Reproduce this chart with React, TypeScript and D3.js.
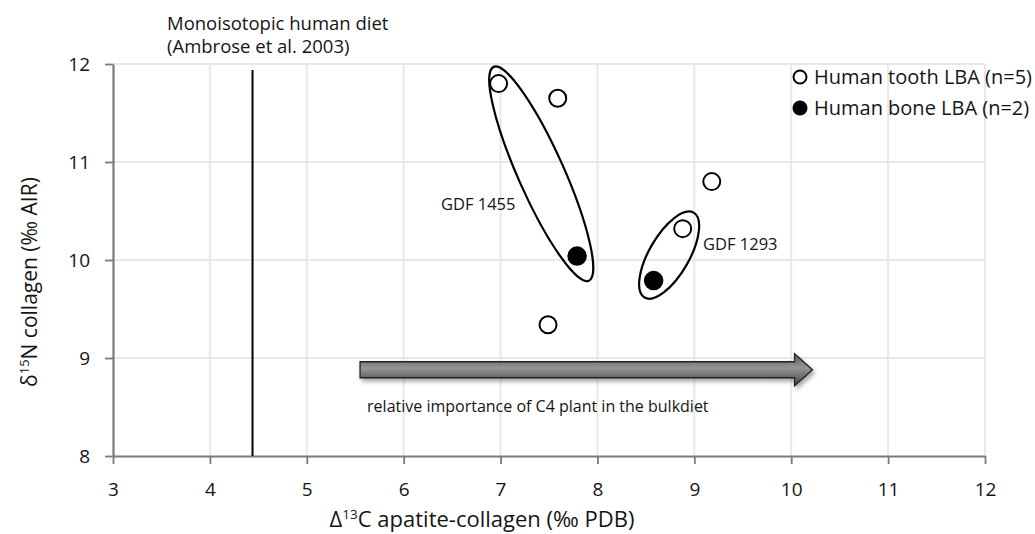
import React, { useRef, useEffect } from "react";
import * as d3 from "d3";

// measured values (‰)
const toothPoints = [
  { x: 6.98, y: 11.8 },
  { x: 7.59, y: 11.65 },
  { x: 9.18, y: 10.8 },
  { x: 8.88, y: 10.32 },
  { x: 7.49, y: 9.34 },
];
const bonePoints = [
  { x: 7.79, y: 10.04 },
  { x: 8.58, y: 9.79 },
];
const xTicks = [3, 4, 5, 6, 7, 8, 9, 10, 11, 12];
const yTicks = [8, 9, 10, 11, 12];
const monoisotopicX = 4.44;

// individual groupings (center in data units)
const groups = [
  { label: "GDF 1455", cx: 7.42, cy: 10.88, labelX: 6.385, labelY: 10.51 },
  { label: "GDF 1293", cx: 8.74, cy: 10.05, labelX: 9.09, labelY: 10.1 },
];
const arrowFrom = 5.55;
const arrowTo = 10.22;
const arrowY = 8.88;

const width = 1035,
  height = 534,
  marginLeft = 113,
  marginRight = 50,
  marginTop = 64,
  marginBottom = 78;

const font = "'Open Sans', sans-serif";
const ink = "#151515";

const App = () => {
  const axisRef = useRef<SVGGElement>(null);

  const x = d3
    .scaleLinear()
    .domain([3, 12])
    .range([marginLeft, width - marginRight]);
  const y = d3
    .scaleLinear()
    .domain([8, 12])
    .range([height - marginBottom, marginTop]);

  useEffect(() => {
    document.body.style.margin = "0";
    if (!axisRef.current) return;
    const g = d3.select(axisRef.current);
    g.selectAll("*").remove();

    g.append("g")
      .attr("transform", `translate(0,${y(8)})`)
      .call(
        d3
          .axisBottom(x)
          .tickValues(xTicks)
          .tickFormat(d3.format("d"))
          .tickSize(8)
          .tickSizeOuter(0)
      )
      .call((a) => a.select(".domain").attr("stroke", "#7a7a7a").attr("stroke-width", 2.2))
      .call((a) => a.selectAll(".tick line").attr("stroke", "#7a7a7a").attr("stroke-width", 1.8))
      .call((a) =>
        a
          .selectAll(".tick text")
          .attr("fill", ink)
          .attr("y", 0)
          .attr("dy", 0)
          .attr("transform", "translate(0,40)")
          .style("font-size", "19px")
          .style("font-family", font)
      );

    g.append("g")
      .attr("transform", `translate(${x(3)},0)`)
      .call(
        d3
          .axisLeft(y)
          .tickValues(yTicks)
          .tickFormat(d3.format("d"))
          .tickSize(8)
          .tickSizeOuter(0)
      )
      .call((a) => a.select(".domain").attr("stroke", "#7a7a7a").attr("stroke-width", 2.2))
      .call((a) => a.selectAll(".tick line").attr("stroke", "#7a7a7a").attr("stroke-width", 1.8))
      .call((a) =>
        a
          .selectAll(".tick text")
          .attr("fill", ink)
          .attr("x", -23)
          .style("font-size", "19px")
          .style("font-family", font)
      );
  }, []);

  const headLen = 18,
    bodyHalf = 8,
    headHalf = 16;
  const ax0 = x(arrowFrom),
    ax1 = x(arrowTo),
    ay = y(arrowY);
  const arrowPath = [
    [ax0, ay - bodyHalf],
    [ax1 - headLen, ay - bodyHalf],
    [ax1 - headLen, ay - headHalf],
    [ax1, ay],
    [ax1 - headLen, ay + headHalf],
    [ax1 - headLen, ay + bodyHalf],
    [ax0, ay + bodyHalf],
  ];

  return (
    <svg width={width} height={height} style={{ display: "block", background: "#fff" }}>
      <defs>
        <linearGradient id="arrowGrad" x1="0" y1="0" x2="0" y2="1">
          <stop offset="0%" stopColor="#595959" />
          <stop offset="45%" stopColor="#959595" />
          <stop offset="100%" stopColor="#424242" />
        </linearGradient>
        <filter id="shadow" x="-5%" y="-50%" width="110%" height="200%">
          <feDropShadow dx="2" dy="3" stdDeviation="2" floodColor="#000" floodOpacity="0.35" />
        </filter>
      </defs>

      {/* gridlines */}
      <g stroke="#e8e8e8" strokeWidth={2}>
        {xTicks.slice(1).map((t) => (
          <line key={"gx" + t} x1={x(t)} x2={x(t)} y1={y(12)} y2={y(8)} />
        ))}
        {yTicks.slice(1).map((t) => (
          <line key={"gy" + t} x1={x(3)} x2={x(12)} y1={y(t)} y2={y(t)} />
        ))}
      </g>

      <g ref={axisRef} />

      {/* monoisotopic line */}
      <line
        x1={x(monoisotopicX)}
        x2={x(monoisotopicX)}
        y1={y(11.94)}
        y2={y(8)}
        stroke="#000"
        strokeWidth={2}
      />
      <text x={167} y={30} fontFamily={font} fontSize={18.5} fill={ink}>
        Monoisotopic human diet
      </text>
      <text x={167} y={53} fontFamily={font} fontSize={18.5} fill={ink}>
        (Ambrose et al. 2003)
      </text>

      {/* ellipses */}
      <ellipse
        cx={x(groups[0].cx)}
        cy={y(groups[0].cy)}
        rx={117}
        ry={23}
        transform={`rotate(66,${x(groups[0].cx)},${y(groups[0].cy)})`}
        fill="none"
        stroke="#000"
        strokeWidth={2.2}
      />
      <ellipse
        cx={x(groups[1].cx)}
        cy={y(groups[1].cy)}
        rx={49}
        ry={20}
        transform={`rotate(-60,${x(groups[1].cx)},${y(groups[1].cy)})`}
        fill="none"
        stroke="#000"
        strokeWidth={2.2}
      />
      {groups.map((gr) => (
        <text
          key={gr.label}
          x={x(gr.labelX)}
          y={y(gr.labelY)}
          fontFamily={font}
          fontSize={16.5}
          fill={ink}
        >
          {gr.label}
        </text>
      ))}

      {/* points */}
      {toothPoints.map((p, i) => (
        <circle key={"t" + i} cx={x(p.x)} cy={y(p.y)} r={8.5} fill="#fff" stroke="#000" strokeWidth={2} />
      ))}
      {bonePoints.map((p, i) => (
        <circle key={"b" + i} cx={x(p.x)} cy={y(p.y)} r={9} fill="#000" stroke="#000" strokeWidth={1.5} />
      ))}

      {/* arrow */}
      <path
        d={d3.line()(arrowPath as [number, number][]) + "Z"}
        fill="url(#arrowGrad)"
        stroke="#222"
        strokeWidth={1.3}
        filter="url(#shadow)"
      />
      <text x={ax0 + 7} y={ay + 42} fontFamily={font} fontSize={16} fill={ink}>
        relative importance of C4 plant in the bulkdiet
      </text>

      {/* legend */}
      <circle cx={800} cy={77} r={6.5} fill="#fff" stroke="#000" strokeWidth={2} />
      <text x={814} y={84} fontFamily={font} fontSize={20} fill={ink}>
        Human tooth LBA (n=5)
      </text>
      <circle cx={800} cy={108} r={7.5} fill="#000" />
      <text x={814} y={115} fontFamily={font} fontSize={20} fill={ink}>
        Human bone LBA (n=2)
      </text>

      {/* axis titles */}
      <text x={482} y={527} textAnchor="middle" fontFamily={font} fontSize={22} fill={ink}>
        Δ<tspan dy={-8} fontSize={13.5}>13</tspan>
        <tspan dy={8}>C apatite-collagen (‰ PDB)</tspan>
      </text>
      <text
        transform={`translate(37,282) rotate(-90)`}
        textAnchor="middle"
        fontFamily={font}
        fontSize={21}
        fill={ink}
      >
        δ<tspan dy={-8} fontSize={13}>15</tspan>
        <tspan dy={8}>N collagen (‰ AIR)</tspan>
      </text>
    </svg>
  );
};

export default App;
